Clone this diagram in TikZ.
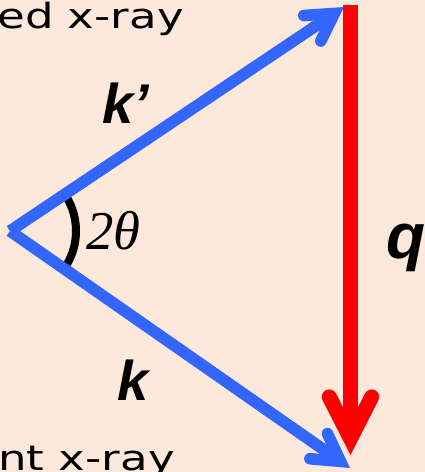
\documentclass[tikz,border=0pt]{standalone}
\usepackage{fontspec}
\usetikzlibrary{arrows.meta}
\newfontfamily\raytextfont[FakeStretch=1.3]{DejaVu Sans}
\newfontfamily\vecfont{Liberation Sans}
\newfontfamily\anglefont{Liberation Serif}
\definecolor{bgpeach}{HTML}{FCE9DC}
\definecolor{kblue}{HTML}{3366FF}
\definecolor{qred}{HTML}{FF0000}
\tikzset{
  raytext/.style={font=\raytextfont\fontsize{26}{31}\selectfont, anchor=base east, inner sep=0pt},
  veclabel/.style={font=\vecfont\bfseries\itshape\fontsize{42}{48}\selectfont, anchor=base west, inner sep=0pt},
  kvec/.style={draw=kblue, line width=8.7pt, -{Straight Barb[angle=60:23pt, line cap=round, line join=miter]}},
  qvec/.style={draw=qred, line width=11.25pt, -{Straight Barb[angle=54:35pt, line cap=round, line join=miter]}},
  anglearc/.style={draw=black, line width=6pt},
}
\begin{document}
\begin{tikzpicture}[x=0.75pt, y=-0.75pt]
\fill[bgpeach] (0,0) rectangle (425,472);
\useasboundingbox (0,0) rectangle (425,472);
% points
\coordinate (O) at (10,231);
\coordinate (T) at (344,7);
\coordinate (B) at (350,468);
\coordinate (Rs) at (350.5,5);
\coordinate (Re) at (350.5,455);
% texts
\node[raytext] (scat) at (184,28) {ed x-ray};
\node[raytext] (inc) at (175,470) {nt x-ray};
% angle
\draw[anglearc] ([shift={(-31:66)}]O) arc[start angle=-31, end angle=31, radius=66];
\node[anchor=base west, inner sep=0pt, font=\anglefont\itshape\fontsize{41}{46}\selectfont] (ang) at (86,249) {2θ};
% vectors
\draw[kvec] (O) -- (T);
\draw[kvec] (O) -- (B);
\draw[qvec] (Rs) -- (Re);
% labels
\node[veclabel] (kp) at (102,123) {k’};
\node[veclabel] (k) at (117,400) {k};
\node[veclabel, font=\vecfont\bfseries\itshape\fontsize{48}{54}\selectfont] (q) at (386,258) {q};
\end{tikzpicture}
\end{document}
